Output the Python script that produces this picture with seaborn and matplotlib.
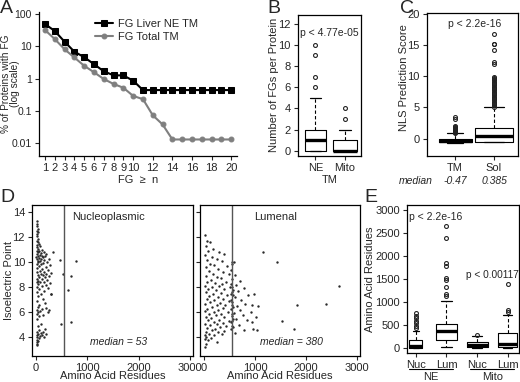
import matplotlib
matplotlib.use('Agg')
import matplotlib.pyplot as plt
import seaborn as sns
import pandas as pd

# Panel A: % of proteins with FG >= n
fg_n = [1, 2, 3, 4, 5, 6, 7, 8, 9, 10, 11, 12, 13, 14, 15, 16, 17, 18, 19, 20]
liver_ne_tm = [49, 29.8, 13.9, 6.8, 4.6, 2.8, 1.68, 1.26, 1.25, 0.86, 0.44, 0.44,
               0.44, 0.44, 0.44, 0.44, 0.44, 0.44, 0.44, 0.44]
total_tm = [32, 16.8, 8.1, 4.5, 2.5, 1.57, 0.97, 0.68, 0.52, 0.29, 0.23, 0.073,
            0.038, 0.013, 0.013, 0.013, 0.013, 0.013, 0.013, 0.013]
a_xticks = [1, 2, 3, 4, 5, 6, 7, 8, 9, 10, 12, 14, 16, 18, 20]
a_yticks = [0.01, 0.1, 1, 10, 100]
a_yticklabels = ['0.01', '0.1', '1', '10', '100']

# Panel B: FGs per protein (box stats)
b_labels = ['NE', 'Mito']
b_q1 = [0, 0]
b_med = [1, 0]
b_q3 = [2, 1]
b_whislo = [0, 0]
b_whishi = [5, 2]
b_fliers = [[6, 7, 9, 10], [3, 4]]

# Panel C: NLS prediction score
c_labels = ['TM', 'Sol']
c_q1 = [-0.6, -0.5]
c_med = [-0.47, 0.385]
c_q3 = [-0.05, 1.7]
c_whislo = [-0.7, -0.6]
c_whishi = [0.85, 5.0]
c_fliers = [[0.9, 1.0, 1.05, 1.1, 1.2, 1.25, 1.3, 1.4, 1.5, 1.55, 1.6, 1.7, 1.8, 1.9, 2.0, 3.1, 3.45],
            [5.1, 5.3, 5.5, 5.7, 5.9, 6.1, 6.3, 6.5, 6.7, 6.9, 7.1, 7.3, 7.5, 7.7, 7.9, 8.1,
             8.3, 8.5, 8.7, 8.9, 9.1, 9.3, 9.5, 9.7, 9.85, 11.9, 12.3, 14.2, 15.1, 15.15, 16.8]]
c_median_text = ['-0.47', '0.385']

# Panel D: residues vs isoelectric point
nuc_points = [
    (20, 13.3), (25, 13.1), (15, 12.9), (30, 12.7), (20, 12.5), (35, 12.4), (10, 12.3), (25, 12.1),
    (40, 11.9), (15, 11.7), (30, 11.6), (55, 11.5), (20, 11.4), (80, 11.3), (10, 11.2), (45, 11.1),
    (120, 11.0), (25, 10.95), (60, 10.9), (150, 10.85), (35, 10.8), (90, 10.75), (200, 10.7),
    (15, 10.65), (70, 10.6), (110, 10.55), (40, 10.5), (180, 10.5), (5, 10.45), (130, 10.4),
    (60, 10.35), (250, 10.3), (20, 10.3), (95, 10.25), (160, 10.2), (30, 10.15), (75, 10.1),
    (210, 10.05), (45, 10.0), (140, 9.95), (10, 9.9), (100, 9.85), (280, 9.8), (55, 9.7),
    (190, 9.6), (25, 9.55), (120, 9.5), (230, 9.4), (70, 9.3), (160, 9.25), (15, 9.2), (300, 9.15),
    (90, 9.1), (200, 9.05), (40, 9.0), (130, 8.95), (250, 8.9), (60, 8.85), (170, 8.8), (20, 8.7),
    (110, 8.65), (220, 8.6), (35, 8.5), (150, 8.45), (10, 8.45), (80, 8.4), (270, 8.35), (45, 8.3),
    (190, 8.2), (120, 8.1), (25, 8.0), (240, 7.95), (60, 7.85), (160, 7.7), (15, 7.6), (90, 7.5),
    (300, 7.45), (40, 7.3), (130, 7.1), (20, 6.9), (180, 6.75), (60, 6.6), (30, 6.4), (200, 6.35),
    (110, 6.3), (15, 6.2), (250, 6.2), (80, 6.1), (45, 6.0), (230, 6.05), (25, 5.9), (140, 5.8),
    (60, 5.7), (10, 5.5), (100, 5.1), (30, 4.9), (170, 4.7), (60, 4.55), (20, 4.45), (130, 4.4),
    (90, 4.35), (40, 4.3), (200, 4.25), (15, 4.2), (110, 4.15), (70, 4.1), (25, 4.0), (150, 4.05),
    (50, 3.95), (10, 3.8), (30, 3.7), (15, 3.6), (20, 3.5), (25, 3.4),
    (330, 10.8), (470, 10.2), (770, 10.1), (520, 9.1), (680, 8.9), (620, 7.8), (690, 5.2),
    (490, 5.05), (300, 7.5),
]
lum_points = [
    (20, 12.2), (60, 11.7), (110, 11.6), (30, 11.3), (180, 11.1), (80, 10.9), (300, 10.8), (10, 10.6),
    (400, 10.7), (150, 10.4), (250, 10.3), (50, 10.2), (550, 10.0), (580, 10.0), (350, 10.1),
    (120, 9.9), (200, 9.8), (450, 9.7), (30, 9.6), (280, 9.5), (520, 9.4), (90, 9.3), (380, 9.2),
    (170, 9.1), (600, 9.0), (480, 9.05), (40, 8.9), (250, 8.8), (330, 8.75), (540, 8.7), (130, 8.6),
    (700, 8.5), (430, 8.45), (60, 8.4), (210, 8.35), (530, 8.3), (360, 8.25), (620, 8.2), (10, 8.1),
    (290, 8.1), (150, 8.0), (500, 8.0), (780, 7.95), (400, 7.9), (80, 7.85), (560, 7.8), (240, 7.75),
    (660, 7.7), (30, 7.6), (340, 7.55), (530, 7.5), (180, 7.45), (450, 7.4), (560, 7.35), (870, 7.4),
    (100, 7.3), (270, 7.25), (600, 7.2), (380, 7.1), (50, 7.05), (720, 7.0), (200, 6.95), (480, 6.9),
    (550, 6.85), (120, 6.8), (320, 6.75), (800, 6.7), (20, 6.65), (420, 6.6), (250, 6.55), (650, 6.5),
    (560, 6.45), (150, 6.4), (370, 6.35), (60, 6.3), (520, 6.25), (280, 6.2), (700, 6.15), (10, 6.1),
    (190, 6.05), (460, 6.0), (580, 5.95), (90, 5.9), (330, 5.85), (760, 5.8), (230, 5.75), (540, 5.7),
    (40, 5.65), (400, 5.6), (140, 5.55), (620, 5.5), (560, 5.45), (300, 5.4), (70, 5.35), (490, 5.3),
    (850, 5.35), (200, 5.25), (530, 5.2), (370, 5.15), (20, 5.1), (260, 5.05), (680, 5.0), (120, 4.95),
    (440, 4.9), (560, 4.85), (320, 4.8), (60, 4.75), (210, 4.7), (520, 4.65), (780, 4.6), (150, 4.55),
    (400, 4.5), (30, 4.45), (270, 4.4), (600, 4.35), (100, 4.3), (350, 4.25), (10, 4.2), (190, 4.15),
    (40, 4.05), (130, 3.95), (20, 3.85), (80, 3.75), (250, 3.6), (30, 3.5), (10, 3.2),
    (540, 9.9), (545, 8.0), (550, 7.6), (535, 7.0), (545, 6.6), (540, 5.9), (550, 5.3), (545, 4.9),
    (1150, 10.8), (1440, 10.0), (2650, 8.1), (2390, 6.7), (1820, 6.6), (1520, 5.3), (1770, 4.7),
    (980, 7.45), (940, 6.55), (1065, 6.5), (930, 6.05), (1010, 5.6), (935, 5.2), (970, 4.7), (1035, 4.6),
]
d_cutoff = 540
d_titles = ['Nucleoplasmic', 'Lumenal']
d_medians = ['median = 53', 'median = 380']

# Panel E: residues by location
e_labels = ['Nuc', 'Lum', 'Nuc', 'Lum']
e_groups = ['NE', 'Mito']
e_q1 = [13, 180, 35, 35]
e_med = [53, 380, 72, 93]
e_q3 = [180, 527, 130, 325]
e_whislo = [0, 20, 0, 0]
e_whishi = [375, 1033, 274, 722]
e_fliers = [[430, 483, 542, 599, 650, 700, 759],
            [1141, 1180, 1323, 1482, 1520, 1785, 1843, 2386, 2660],
            [290],
            [790, 831, 1395]]

sns.set_style('ticks')
plt.rcParams['font.family'] = ['Liberation Sans', 'DejaVu Sans']
plt.rcParams['xtick.major.size'] = 3
plt.rcParams['ytick.major.size'] = 3
plt.rcParams['axes.linewidth'] = 0.9
plt.rcParams['axes.edgecolor'] = 'black'

FS = 8
fig = plt.figure(figsize=(5.2, 3.82), dpi=100)


def box_stats(q1, med, q3, lo, hi, fl):
    return [dict(q1=a, med=b, q3=c, whislo=d, whishi=e, fliers=f)
            for a, b, c, d, e, f in zip(q1, med, q3, lo, hi, fl)]


def r_boxplot(ax, stats, widths):
    pos = list(range(1, len(stats) + 1))
    ax.bxp(stats, positions=pos, widths=widths, capwidths=[w * 0.5 for w in widths],
           boxprops=dict(color='black', linewidth=0.8),
           whiskerprops=dict(color='black', linestyle=(0, (3, 2)), linewidth=0.8),
           capprops=dict(color='black', linewidth=0.9),
           medianprops=dict(color='black', linewidth=2.4, solid_capstyle='butt'),
           flierprops=dict(marker='o', markersize=2.8, markerfacecolor='none',
                           markeredgecolor='#222222', markeredgewidth=0.8))


# ---- A ----
axA = fig.add_axes([0.075, 0.5916, 0.381, 0.377])
sns.lineplot(x=fg_n, y=liver_ne_tm, ax=axA, color='black', marker='s', markersize=4,
             markeredgecolor='black', linewidth=1.5, label='FG Liver NE TM')
sns.lineplot(x=fg_n, y=total_tm, ax=axA, color='#7f7f7f', marker='o', markersize=3.5,
             markeredgecolor='#7f7f7f', linewidth=1.5, label='FG Total TM')
axA.set_yscale('log')
axA.set_ylim(0.004, 115)
axA.set_xlim(0.4, 20.6)
axA.set_xticks(a_xticks)
axA.set_xticklabels([str(t) for t in a_xticks], fontsize=FS)
axA.set_yticks(a_yticks)
axA.set_yticklabels(a_yticklabels, fontsize=7.5)
axA.minorticks_off()
axA.tick_params(axis='x', pad=2)
axA.tick_params(axis='y', pad=2)
axA.set_xlabel('FG  \u2265  n', fontsize=FS)
axA.xaxis.set_label_coords(0.5, -0.13)
axA.set_ylabel('% of Proteins with FG\n(log scale)', fontsize=7.3, linespacing=0.9)
axA.yaxis.set_label_coords(-0.095, 0.5)
sns.despine(ax=axA)
axA.legend(loc='upper left', bbox_to_anchor=(0.26, 0.98), frameon=False, fontsize=FS,
           handlelength=1.6, handletextpad=0.5, labelspacing=0.25, borderaxespad=0)

# ---- B ----
axB = fig.add_axes([0.5725, 0.5924, 0.1217, 0.3683])
r_boxplot(axB, box_stats(b_q1, b_med, b_q3, b_whislo, b_whishi, b_fliers), [0.72, 0.82])
axB.set_xlim(0.39, 2.56)
axB.set_ylim(-0.45, 12.8)
axB.set_yticks([0, 2, 4, 6, 8, 10, 12])
axB.set_xticks([1, 2])
axB.set_xticklabels(b_labels, fontsize=FS)
axB.tick_params(labelsize=FS, pad=2)
axB.set_xlabel('TM', fontsize=FS)
axB.xaxis.set_label_coords(0.5, -0.135)
axB.set_ylabel('Number of FGs per Protein', fontsize=FS)
axB.yaxis.set_label_coords(-0.29, 0.5)
axB.text(0.5, 0.87, 'p < 4.77e-05', transform=axB.transAxes, ha='center', va='center', fontsize=7.5)

# ---- C ----
axC = fig.add_axes([0.8206, 0.5916, 0.175, 0.3743])
r_boxplot(axC, box_stats(c_q1, c_med, c_q3, c_whislo, c_whishi, c_fliers), [0.85, 1.0])
axC.set_xlim(0.27, 2.61)
axC.set_ylim(-2.8, 20.1)
axC.set_yticks([0, 5, 10, 15, 20])
axC.set_xticks([1, 2])
axC.set_xticklabels(c_labels, fontsize=FS)
axC.tick_params(labelsize=FS, pad=2)
axC.set_ylabel('NLS Prediction Score', fontsize=FS)
axC.yaxis.set_label_coords(-0.2, 0.55)
axC.text(0.53, 0.92, 'p < 2.2e-16', transform=axC.transAxes, ha='center', va='center', fontsize=7.5)
ylab = axC.get_xaxis_transform()
axC.text(0.0, -0.175, 'median', transform=ylab, ha='center', va='center', fontsize=7.5,
         style='italic', clip_on=False)
for i, t in enumerate(c_median_text):
    axC.text(i + 1, -0.175, t, transform=ylab, ha='center', va='center', fontsize=7.5,
             style='italic', clip_on=False)

# ---- D ----
d_axes = [fig.add_axes([0.0615, 0.0681, 0.3096, 0.3953]),
          fig.add_axes([0.3846, 0.0681, 0.3077, 0.3953])]
for ax, pts, title, med, tx, mx in zip(d_axes, [nuc_points, lum_points], d_titles, d_medians,
                                       [0.25, 0.34], [0.54, 0.57]):
    df = pd.DataFrame(pts, columns=['residues', 'pI'])
    sns.scatterplot(data=df, x='residues', y='pI', ax=ax, color='#2a2a2a', s=3,
                    marker='o', linewidth=0)
    ax.axvline(d_cutoff, color='#555555', linewidth=1.0)
    ax.set_xlim(-80, 3060)
    ax.set_ylim(2.5, 14.6)
    ax.set_xticks([0, 1000, 2000, 3000])
    ax.set_yticks([4, 6, 8, 10, 12, 14])
    ax.tick_params(labelsize=FS, pad=2)
    ax.set_xlabel('Amino Acid Residues', fontsize=FS)
    ax.xaxis.set_label_coords(0.5, -0.1)
    ax.set_ylabel('')
    ax.text(tx, 0.92, title, transform=ax.transAxes, ha='left', va='center', fontsize=FS)
    ax.text(mx, 0.09, med, transform=ax.transAxes, ha='center', va='center', fontsize=7.5,
            style='italic')
d_axes[0].set_ylabel('Isoelectric Point', fontsize=FS)
d_axes[0].yaxis.set_label_coords(-0.11, 0.5)
d_axes[1].set_yticklabels([])

# ---- E ----
axE = fig.add_axes([0.7821, 0.0751, 0.216, 0.3882])
r_boxplot(axE, box_stats(e_q1, e_med, e_q3, e_whislo, e_whishi, e_fliers), [0.42, 0.71, 0.69, 0.62])
axE.set_xlim(0.7, 4.37)
axE.set_ylim(-110, 3110)
axE.set_yticks([0, 500, 1000, 1500, 2000, 2500, 3000])
axE.set_xticks([1, 2, 3, 4])
axE.set_xticklabels(e_labels, fontsize=FS)
axE.tick_params(labelsize=FS, pad=2)
axE.set_ylabel('Amino Acid Residues', fontsize=FS)
axE.yaxis.set_label_coords(-0.285, 0.5)
axE.text(0.02, 0.92, 'p < 2.2e-16', transform=axE.transAxes, ha='left', va='center', fontsize=7.5)
axE.text(0.53, 0.53, 'p < 0.00117', transform=axE.transAxes, ha='left', va='center', fontsize=7.3)
tr = axE.get_xaxis_transform()
for gi, g in enumerate(e_groups):
    c = 1.5 + 2 * gi
    axE.plot([c - 0.72, c + 0.72], [-0.106, -0.106], transform=tr, color='black',
             linewidth=0.8, clip_on=False)
    axE.text(c, -0.16, g, transform=tr, ha='center', va='center', fontsize=FS, clip_on=False)

# panel letters
for letter, x, y in [('A', 0.0, 1.0), ('B', 0.515, 1.0), ('C', 0.77, 1.0),
                     ('D', 0.0, 0.505), ('E', 0.7, 0.505)]:
    fig.text(x, y, letter, fontsize=14, ha='left', va='top')

fig.savefig('out.png', dpi=100)
